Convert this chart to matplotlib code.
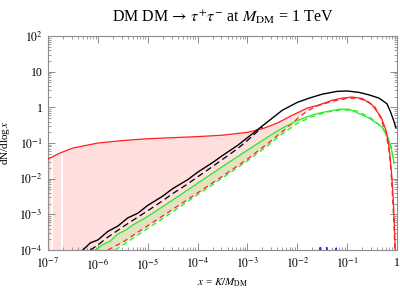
import numpy as np
import matplotlib
matplotlib.use("Agg")
import matplotlib.pyplot as plt
from matplotlib.ticker import FixedLocator, FixedFormatter, LogLocator, NullFormatter

plt.rcParams['font.family'] = 'serif'
plt.rcParams['font.serif'] = ['Liberation Serif', 'DejaVu Serif']
plt.rcParams['mathtext.fontset'] = 'stix'

# ---- data (log10 x, log10 dN/dlogx) ----
black_solid_lx = [-6.3, -6.15, -6.0, -5.8, -5.6, -5.4, -5.2, -5.0, -4.7, -4.5, -4.2, -4.0, -3.7, -3.5,
                  -3.2, -3.0, -2.7, -2.5, -2.3, -2.0, -1.76, -1.5, -1.2, -1.0, -0.76, -0.56,
                  -0.36, -0.2, -0.12, -0.06, -0.02]
black_solid_ly = [-4.0, -3.80, -3.72, -3.48, -3.33, -3.10, -2.97, -2.75, -2.49, -2.28, -2.03, -1.82, -1.55, -1.35,
                  -1.07, -0.85, -0.52, -0.30, -0.08, 0.14, 0.26, 0.37, 0.45, 0.46, 0.42, 0.35,
                  0.26, 0.10, -0.16, -0.40, -0.58]

black_dash_lx = [-6.15, -6.0, -5.8, -5.6, -5.4, -5.2, -5.0, -4.7, -4.5, -4.2, -4.0, -3.7, -3.5, -3.2, -3.0, -2.7]
black_dash_ly = [-4.0, -3.86, -3.64, -3.45, -3.26, -3.08, -2.90, -2.62, -2.42, -2.15, -1.95, -1.66, -1.46, -1.16, -0.93, -0.55]

red_solid_lx = [-7.0, -6.76, -6.5, -6.0, -5.5, -5.0, -4.5, -4.0, -3.5, -3.0, -2.7, -2.4, -2.1, -1.8,
                -1.56, -1.3, -1.1, -0.9, -0.7, -0.5, -0.32, -0.22, -0.16, -0.12, -0.10, -0.07, -0.05, -0.03]
red_solid_ly = [-1.45, -1.28, -1.14, -1.00, -0.93, -0.88, -0.85, -0.82, -0.78, -0.70, -0.60, -0.44, -0.22, -0.02,
                0.07, 0.20, 0.26, 0.29, 0.25, 0.07, -0.27, -0.64, -1.10, -1.67, -2.0, -2.7, -3.4, -4.2]

red_dash_lx = [-5.8, -5.5, -5.0, -4.5, -4.0, -3.5, -3.0, -2.6, -2.3, -2.0, -1.8, -1.6, -1.3, -1.0,
               -0.8, -0.6, -0.45, -0.32, -0.22, -0.16, -0.12, -0.09, -0.06, -0.04]
red_dash_ly = [-4.0, -3.78, -3.32, -2.86, -2.40, -1.93, -1.45, -1.02, -0.68, -0.32, -0.10, 0.04, 0.17, 0.25,
               0.26, 0.18, 0.03, -0.32, -0.75, -1.2, -1.8, -2.5, -3.3, -4.2]

green_solid_lx = [-6.05, -5.9, -5.75, -5.6, -5.45, -5.3, -5.0, -4.5, -4.0, -3.5, -3.0, -2.6, -2.3, -2.0,
                  -1.76, -1.56, -1.16, -0.96, -0.56, -0.3, -0.2, -0.12, -0.06]
green_solid_ly = [-4.0, -3.85, -3.75, -3.55, -3.45, -3.30, -3.06, -2.60, -2.13, -1.66, -1.20, -0.84, -0.58, -0.37,
                  -0.24, -0.16, -0.05, -0.05, -0.30, -0.55, -0.78, -1.10, -1.56]

green_dash_lx = [-5.65, -5.0, -4.5, -4.0, -3.5, -3.0, -2.6, -2.3, -2.0, -1.7, -1.4, -1.1, -0.8, -0.5,
                 -0.3, -0.2, -0.12, -0.06]
green_dash_ly = [-4.0, -3.40, -2.93, -2.45, -1.98, -1.50, -1.08, -0.74, -0.45, -0.26, -0.13, -0.07, -0.10, -0.32,
                 -0.56, -0.80, -1.12, -1.58]

blue_lx = [-1.58, -1.55, -1.54, -1.53, -1.42, -1.41, -1.40, -1.25, -1.23, -1.22, -1.21]
blue_ly = [-4.3, -4.3, -3.93, -4.3, -4.3, -3.93, -4.3, -4.3, -4.3, -3.95, -4.3]

gap_lx = [-6.92, -6.72]

xtick_vals = [1e-7, 1e-6, 1e-5, 1e-4, 1e-3, 1e-2, 1e-1, 1]
xtick_labels = [r'$10^{-7}$', r'$10^{-6}$', r'$10^{-5}$', r'$10^{-4}$', r'$10^{-3}$', r'$10^{-2}$', r'$10^{-1}$', '1']
ytick_vals = [1e-4, 1e-3, 1e-2, 1e-1, 1, 10, 100]
ytick_labels = [r'$10^{-4}$', r'$10^{-3}$', r'$10^{-2}$', r'$10^{-1}$', '1', '10', r'$10^{2}$']


def p(a):
    return 10.0 ** np.asarray(a, dtype=float)


fig = plt.figure(figsize=(4.0, 2.91), dpi=100)
ax = fig.add_axes([0.12, 0.141, 0.8725, 0.735])
ax.set_xscale('log')
ax.set_yscale('log')
ax.set_xlim(1e-7, 1)
ax.set_ylim(1e-4, 1e2)

pink = '#ffdede'
px_ = list(red_solid_lx) + list(red_dash_lx[::-1]) + [-7.0]
py_ = list(red_solid_ly) + list(red_dash_ly[::-1]) + [-4.5]
ax.fill(p(px_), p(py_), color=pink, lw=0, zorder=1)

for g in gap_lx:
    top = np.interp(g, red_solid_lx, red_solid_ly)
    ax.vlines(10 ** g, 1e-4, 10 ** (top - 0.02), color='white', lw=1.4, zorder=1.5)

gx = list(green_solid_lx[:15]) + list(green_dash_lx[:10][::-1])
gy = list(green_solid_ly[:15]) + list(green_dash_ly[:10][::-1])
ax.fill(p(gx), p(gy), color='#c0e6a0', alpha=0.45, lw=0, zorder=2)

ax.plot(p(blue_lx), p(blue_ly), color='#2233ff', lw=1.0, zorder=3)
ax.plot(p(green_dash_lx), p(green_dash_ly), color='#22ee22', lw=0.9, ls=(0, (4, 3)), zorder=3)
ax.plot(p(red_dash_lx), p(red_dash_ly), color='#ff2020', lw=0.9, ls=(0, (4, 3)), zorder=4)
ax.plot(p(green_solid_lx), p(green_solid_ly), color='#22ee22', lw=0.9, zorder=4)
ax.plot(p(red_solid_lx), p(red_solid_ly), color='#ff2020', lw=0.9, zorder=5)
ax.plot(p(black_dash_lx), p(black_dash_ly), color='black', lw=0.9, ls=(0, (5, 3)), zorder=5)
ax.plot(p(black_solid_lx), p(black_solid_ly), color='black', lw=1.0, zorder=6)

grey = '#8c8c8c'
for s in ax.spines.values():
    s.set_color(grey)
    s.set_linewidth(0.8)

ax.xaxis.set_major_locator(FixedLocator(xtick_vals))
ax.xaxis.set_major_formatter(FixedFormatter(xtick_labels))
ax.yaxis.set_major_locator(FixedLocator(ytick_vals))
ax.yaxis.set_major_formatter(FixedFormatter(ytick_labels))
ax.xaxis.set_minor_locator(LogLocator(base=10, subs=np.arange(2, 10), numticks=20))
ax.yaxis.set_minor_locator(LogLocator(base=10, subs=np.arange(2, 10), numticks=20))
ax.xaxis.set_minor_formatter(NullFormatter())
ax.yaxis.set_minor_formatter(NullFormatter())
ax.tick_params(which='both', direction='in', top=True, right=True, color=grey, labelsize=8.5)
ax.tick_params(axis='x', which='major', pad=5)
ax.tick_params(axis='y', which='major', pad=4)
ax.tick_params(which='major', length=5, width=0.7)
ax.tick_params(which='minor', length=2.5, width=0.6)

ax.set_title(r'DM DM$\,\rightarrow\,\tau^{+}\tau^{-}$ at $M_{\rm DM}$ = 1 TeV', fontsize=11.5, pad=10)
ax.set_xlabel(r'$x$ = $K/M_{\rm DM}$', fontsize=8, labelpad=3)
ax.set_ylabel(r'dN/dlog$\,x$', fontsize=8, labelpad=5)

fig.savefig('out.png', dpi=100)
